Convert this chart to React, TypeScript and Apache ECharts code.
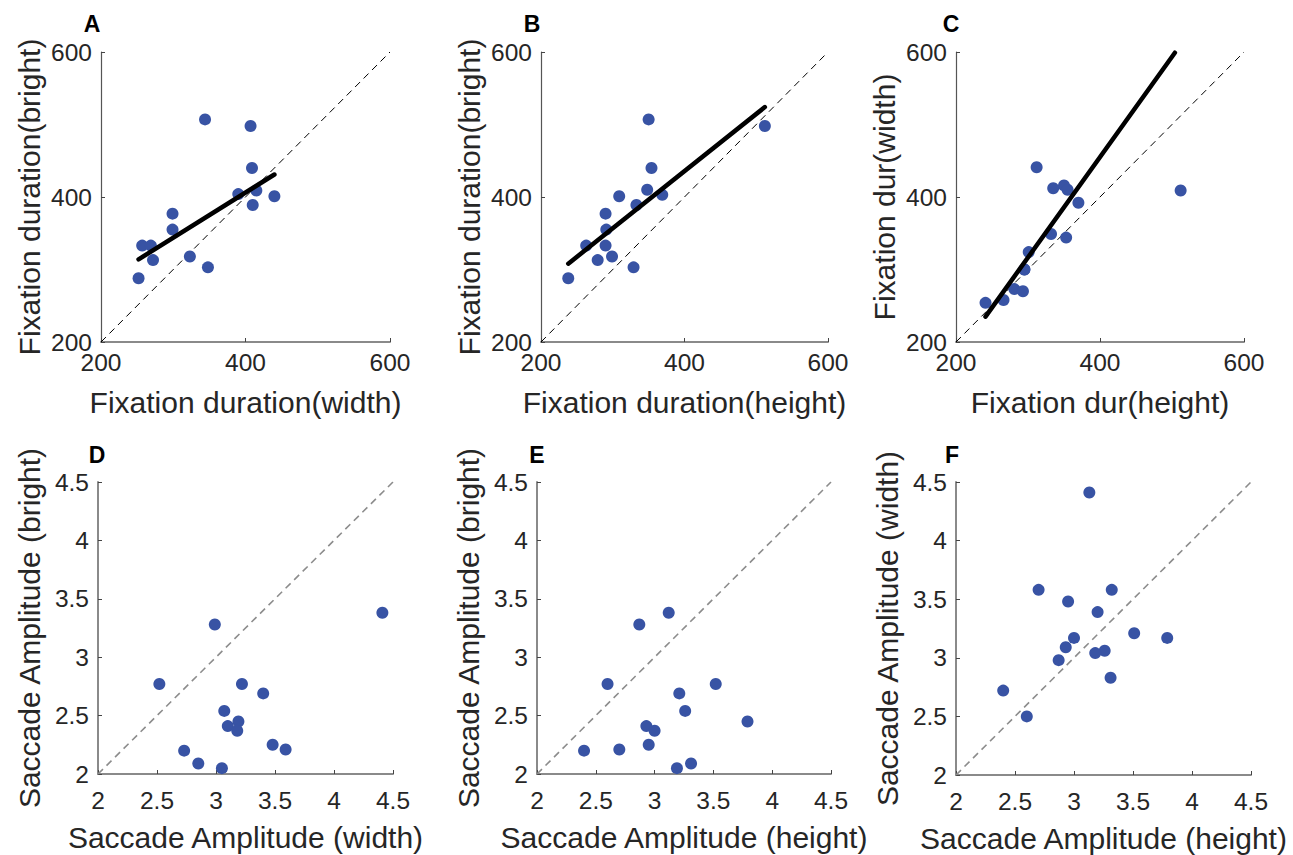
import React, { useEffect, useRef } from "react";
import * as echarts from "echarts";

// ---- Data ----
const panelLetters = ["A", "B", "C", "D", "E", "F"];
const xNames = [
  "Fixation duration(width)",
  "Fixation duration(height)",
  "Fixation dur(height)",
  "Saccade Amplitude (width)",
  "Saccade Amplitude (height)",
  "Saccade Amplitude (height)",
];
const yNames = [
  "Fixation duration(bright)",
  "Fixation duration(bright)",
  "Fixation dur(width)",
  "Saccade Amplitude (bright)",
  "Saccade Amplitude (bright)",
  "Saccade Amplitude (width)",
];

// Fixation duration panels (A, B, C)
const aX = [344, 407, 409, 390, 415, 440, 410, 299, 299, 257, 269, 272, 323, 348, 252];
const aY = [507, 498, 440, 404, 409, 401, 389, 377, 355, 333, 333, 313, 318, 303, 288];
const bX = [350, 512, 354, 348, 369, 309, 333, 290, 291, 263, 290, 279, 299, 329, 238];
const bY = [507, 498, 440, 410, 403, 401, 389, 377, 355, 333, 333, 313, 318, 303, 288];
const cX = [312, 335, 350, 355, 512, 370, 332, 353, 301, 295, 295, 281, 293, 266, 241];
const cY = [441, 412, 416, 410, 409, 392, 349, 344, 324, 300, 300, 273, 270, 258, 254];

// Regression line end points (A, B, C)
const aFitX = [252, 440];
const aFitY = [314, 431];
const bFitX = [238, 512];
const bFitY = [308, 524];
const cFitX = [241, 504];
const cFitY = [235, 599];

// Saccade amplitude panels (D, E, F)
const dX = [4.41, 2.99, 2.52, 3.22, 3.40, 3.07, 3.19, 3.10, 3.18, 3.48, 3.59, 2.73, 2.85, 3.05];
const dY = [3.38, 3.28, 2.77, 2.77, 2.69, 2.54, 2.45, 2.41, 2.37, 2.25, 2.21, 2.20, 2.09, 2.05];
const eX = [3.12, 2.87, 2.60, 3.52, 3.21, 3.26, 3.79, 2.93, 3.00, 2.95, 2.70, 2.40, 3.31, 3.19];
const eY = [3.38, 3.28, 2.77, 2.77, 2.69, 2.54, 2.45, 2.41, 2.37, 2.25, 2.21, 2.20, 2.09, 2.05];
const fX = [3.13, 2.70, 3.32, 2.95, 3.20, 3.51, 3.79, 3.00, 2.93, 3.26, 3.18, 2.87, 3.31, 2.40, 2.60];
const fY = [4.41, 3.58, 3.58, 3.48, 3.39, 3.21, 3.17, 3.17, 3.09, 3.06, 3.04, 2.98, 2.83, 2.72, 2.50];

// Axis ranges
const fixRange = [200, 600];
const fixInterval = 200;
const sacRange = [2, 4.5];
const sacInterval = 0.5;

const FONT = "'Liberation Sans', Arial, Helvetica, sans-serif";
const DOT = "#3853a4";
const TXT = "#262626";

export default function App() {
  const ref = useRef<HTMLDivElement>(null);
  useEffect(() => {
    document.body.style.margin = "0";
    const chart = echarts.init(ref.current!, null, { renderer: "svg" });

    const grids = [
      { left: 101, top: 52, width: 289, height: 290 },
      { left: 541, top: 52, width: 287, height: 290 },
      { left: 956, top: 52, width: 288, height: 290 },
      { left: 98, top: 482, width: 295, height: 292 },
      { left: 537, top: 482, width: 294, height: 292 },
      { left: 956, top: 482, width: 295, height: 293 },
    ];
    const letterPos = [
      [92, 24],
      [532, 24],
      [951, 24],
      [97, 455],
      [537, 455],
      [952, 455],
    ];
    const xs = [aX, bX, cX, dX, eX, fX];
    const ys = [aY, bY, cY, dY, eY, fY];
    const fits = [
      [aFitX, aFitY],
      [bFitX, bFitY],
      [cFitX, cFitY],
    ];

    const xAxis: any[] = [];
    const yAxis: any[] = [];
    const series: any[] = [];
    for (let i = 0; i < 6; i++) {
      const top = i < 3;
      const range = top ? fixRange : sacRange;
      const interval = top ? fixInterval : sacInterval;
      const common = {
        gridIndex: i,
        type: "value",
        min: range[0],
        max: range[1],
        interval,
        nameLocation: "middle",
        nameTextStyle: { fontSize: 30, color: TXT, fontFamily: FONT },
        axisTick: { show: true, inside: true, length: 4, lineStyle: { color: "#444", width: 1 } },
        splitLine: { show: false },
        axisLabel: { fontSize: 24.5, color: TXT, fontFamily: FONT },
      };
      xAxis.push({
        ...common,
        name: xNames[i],
        nameGap: top ? 45 : 48,
        axisLine: { show: true, lineStyle: { color: "#8a8a8a", width: 2 } },
        axisLabel: { ...common.axisLabel, margin: top ? 8 : 14 },
      });
      yAxis.push({
        ...common,
        name: yNames[i],
        nameGap: top ? 57 : 54,
        axisLine: { show: true, lineStyle: { color: top ? "#555" : "#8a8a8a", width: top ? 1.2 : 2 } },
        axisLabel: { ...common.axisLabel, margin: 9 },
      });
      // identity diagonal
      series.push({
        type: "line",
        xAxisIndex: i,
        yAxisIndex: i,
        data: [
          [range[0], range[0]],
          [range[1], range[1]],
        ],
        symbol: "none",
        silent: true,
        lineStyle: top
          ? { color: "#000", width: 1, type: [7, 5] }
          : { color: "#8c8c8c", width: 1.6, type: [7, 5] },
        z: 1,
      });
      // fit lines
      if (top) {
        const [fx, fy] = fits[i];
        series.push({
          type: "line",
          xAxisIndex: i,
          yAxisIndex: i,
          data: fx.map((v, k) => [v, fy[k]]),
          symbol: "none",
          silent: true,
          lineStyle: { color: "#000", width: 4.5, cap: "round" },
          z: 3,
        });
      }
      series.push({
        type: "scatter",
        xAxisIndex: i,
        yAxisIndex: i,
        data: xs[i].map((v, k) => [v, ys[i][k]]),
        symbolSize: 12,
        itemStyle: { color: DOT, opacity: 1 },
        z: 2,
      });
    }

    chart.setOption({
      animation: false,
      backgroundColor: "#fff",
      grid: grids,
      xAxis,
      yAxis,
      series,
      graphic: panelLetters.map((t, i) => ({
        type: "text",
        x: letterPos[i][0],
        y: letterPos[i][1],
        style: {
          text: t,
          font: `bold 23px ${FONT}`,
          fill: "#000",
          textAlign: "center",
          textVerticalAlign: "middle",
        },
      })),
    });
    return () => chart.dispose();
  }, []);
  return <div ref={ref} style={{ width: 1293, height: 855 }} />;
}
